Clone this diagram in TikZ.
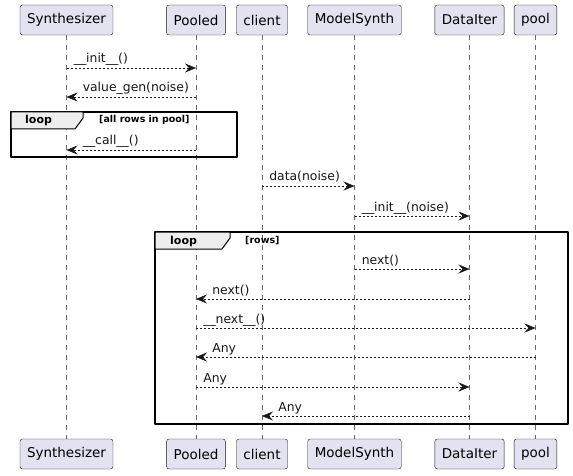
\documentclass[tikz,border=0pt]{standalone}
\usepackage{fontspec}
\setmainfont{DejaVu Sans}
\usetikzlibrary{arrows.meta}
\definecolor{partfill}{HTML}{E2E2F0}
\definecolor{umlline}{HTML}{181818}
\definecolor{tabfill}{HTML}{EEEEEE}
\begin{document}
\begin{tikzpicture}[x=1pt, y=-1pt, line join=round, >={Stealth[length=11pt,width=9pt,inset=4pt]},
	part/.style={draw=umlline, fill=partfill, rounded corners=2.5pt, minimum height=30pt, inner xsep=7pt, inner ysep=0pt, font=\fontsize{13.5}{15}\selectfont},
	life/.style={umlline!65, line width=.5pt, dash pattern=on 5pt off 5pt},
	msg/.style={umlline, ->, line width=.6pt, dash pattern=on 2pt off 2pt},
	rlbl/.style={inner sep=0pt, anchor=base west, pos=0, xshift=7pt, yshift=5pt, font=\fontsize{12.4}{14}\selectfont},
	llbl/.style={inner sep=0pt, anchor=base west, pos=1, xshift=16pt, yshift=5pt, font=\fontsize{12.4}{14}\selectfont},
	frame/.style={draw=black, line width=1.5pt},
	tab/.style={draw=black, fill=tabfill, line width=1pt},
	tabname/.style={inner sep=0pt, anchor=base west, font=\bfseries\fontsize{11}{13}\selectfont},
	guard/.style={inner sep=0pt, anchor=base west, font=\bfseries\fontsize{9.5}{11}\selectfont}]
	\def\yT{20} \def\yB{454} % Hàng tên
	\useasboundingbox (0,0) rectangle (573,476);
	\fill[white] (0,0) rectangle (573,476);
	% tên trên và dưới
	\foreach \n/\x/\t in {synth/66.5/Synthesizer, pooled/196/Pooled, client/262/client, model/354.5/ModelSynth, iter/469.5/DataIter, pool/535.5/pool}{
		\node[part] (\n T) at (\x,\yT) {\t};
		\node[part] (\n B) at (\x,\yB) {\t};
		\draw[life] (\n T) -- (\n B);
	}
	% loop thứ nhất
	\draw[frame] (11,112) rectangle (237,157);
	\draw[tab] (11,112) -- (83,112) -- (83,118) -- (75,129) -- (11,129) -- cycle;
	\node[tabname] at (25,124) {loop};
	\node[guard] at (99,123) {[all rows in pool]};
	% loop thứ hai
	\draw[frame] (155,232) rectangle (568,424);
	\draw[tab] (155,232) -- (230,232) -- (230,238) -- (222,249) -- (155,249) -- cycle;
	\node[tabname] at (170,244) {loop};
	\node[guard] at (245,243) {[rows]};
	% thông điệp
	\draw[msg] (synthT |- 0,68) -- node[rlbl] {\_\_init\_\_()} (pooledT |- 0,68);
	\draw[msg] (pooledT |- 0,97) -- node[llbl] {value\_gen(noise)} (synthT |- 0,97);
	\draw[msg] (pooledT |- 0,150) -- node[llbl] {\_\_call\_\_()} (synthT |- 0,150);
	\draw[msg] (clientT |- 0,186) -- node[rlbl] {data(noise)} (modelT |- 0,186);
	\draw[msg] (modelT |- 0,216) -- node[rlbl] {\_\_init\_\_(noise)} (iterT |- 0,216);
	\draw[msg] (modelT |- 0,269) -- node[rlbl] {next()} (iterT |- 0,269);
	\draw[msg] (iterT |- 0,299) -- node[llbl] {next()} (pooledT |- 0,299);
	\draw[msg] (pooledT |- 0,328) -- node[rlbl] {\_\_next\_\_()} (poolT |- 0,328);
	\draw[msg] (poolT |- 0,357) -- node[llbl] {Any} (pooledT |- 0,357);
	\draw[msg] (pooledT |- 0,387) -- node[rlbl] {Any} (iterT |- 0,387);
	\draw[msg] (iterT |- 0,416) -- node[llbl] {Any} (clientT |- 0,416);
\end{tikzpicture}
\end{document}
